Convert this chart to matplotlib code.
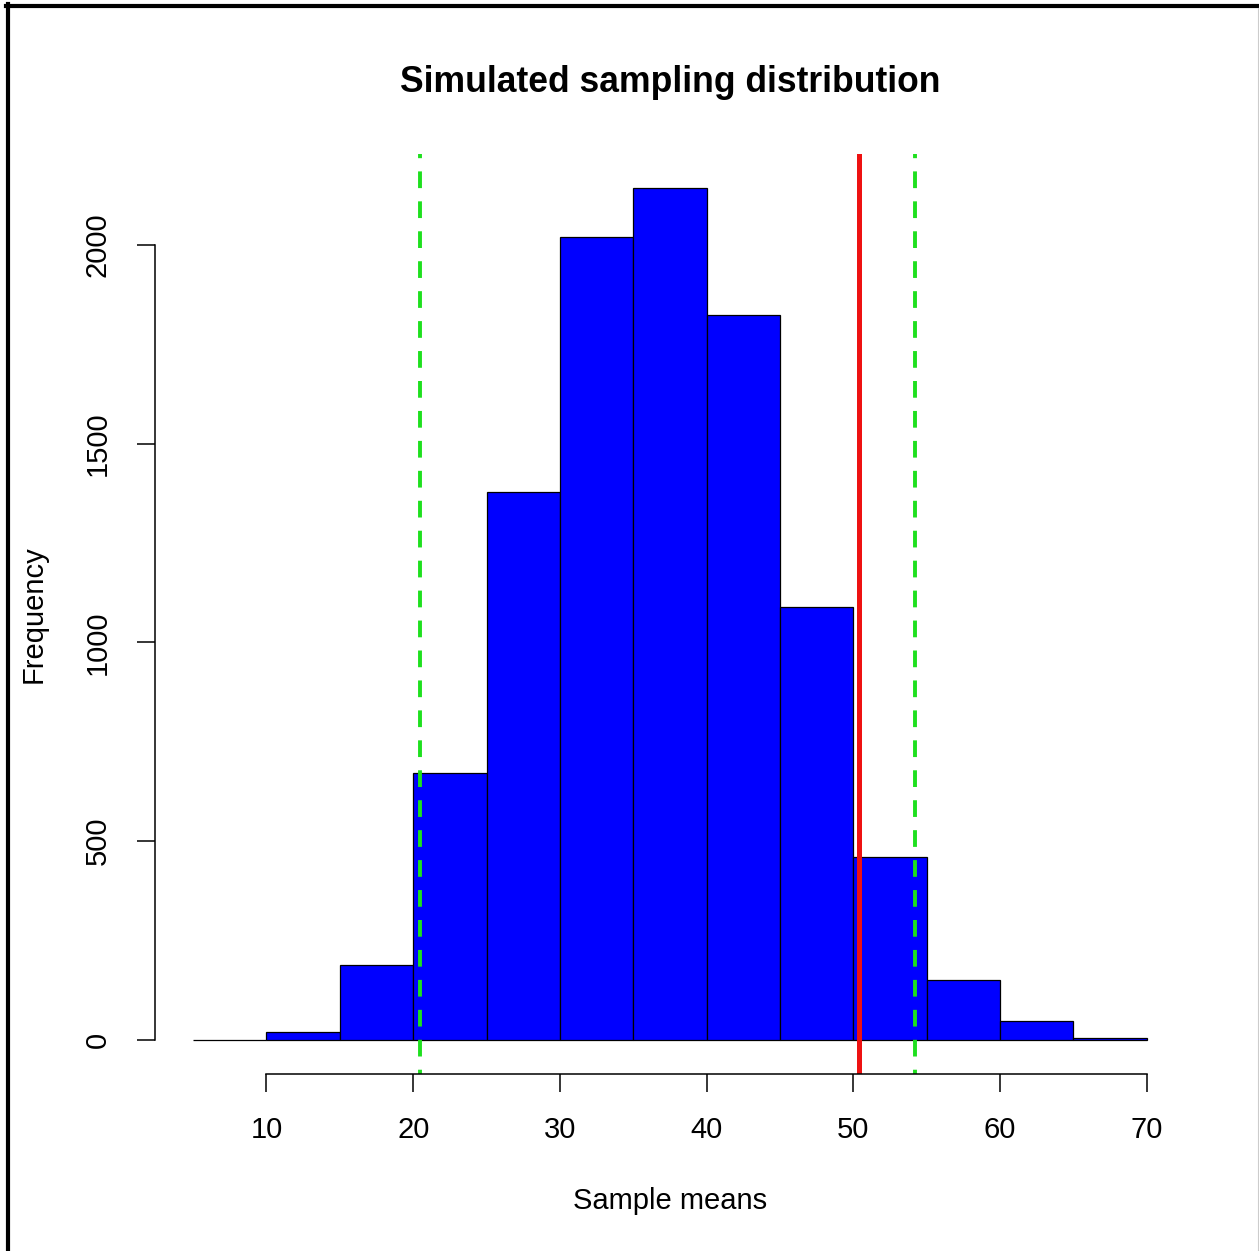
import matplotlib.pyplot as plt
from matplotlib.lines import Line2D

# histogram of simulated sample means (bins of width 5)
bin_edges = [5, 10, 15, 20, 25, 30, 35, 40, 45, 50, 55, 60, 65, 70]
counts = [0, 20, 189, 672, 1379, 2020, 2143, 1824, 1089, 460, 151, 48, 5]
observed = 50.35
ci_bounds = [20.48, 54.22]
xticks = [10, 20, 30, 40, 50, 60, 70]
yticks = [0, 500, 1000, 1500, 2000]

plt.rcParams['font.family'] = ['Liberation Sans', 'DejaVu Sans']

fig = plt.figure(figsize=(12.59, 12.51), dpi=100)
ax = fig.add_axes([0.1231, 0.1415, 0.8181, 0.7354])

lefts = bin_edges[:-1]
widths = [b - a for a, b in zip(bin_edges[:-1], bin_edges[1:])]
ax.bar(lefts, counts, width=widths, align='edge', color='#0000ff',
       edgecolor='black', linewidth=0.9)

ax.axvline(observed, color='#ee1111', linewidth=3.6)
for b in ci_bounds:
    ax.axvline(b, color='#1ee01e', linewidth=2.8, linestyle=(3.2, (4.3, 3.4)))

# R-style extents: 4% padding on each side
xr = bin_edges[-1] - bin_edges[0]
ax.set_xlim(bin_edges[0] - 0.04 * xr, bin_edges[-1] + 0.04 * xr)
ym = max(counts)
ax.set_ylim(-0.04 * ym, 1.04 * ym)

for s in ['top', 'right']:
    ax.spines[s].set_visible(False)
ax.spines['bottom'].set_bounds(xticks[0], xticks[-1])
ax.spines['left'].set_bounds(yticks[0], yticks[-1])
ax.spines['bottom'].set_linewidth(1.1)
ax.spines['left'].set_linewidth(1.1)

ax.set_xticks(xticks)
ax.set_yticks(yticks)
ax.set_yticklabels([str(v) for v in yticks], rotation=90, va='center')
ax.tick_params(axis='both', length=13, width=1.1, labelsize=21, colors='black')
ax.tick_params(axis='x', pad=17)
ax.tick_params(axis='y', pad=18)

ax.set_xlabel('Sample means', fontsize=21)
ax.xaxis.set_label_coords(0.5, -0.123)
ax.set_ylabel('Frequency', fontsize=21)
ax.yaxis.set_label_coords(-0.118, 0.5)
ax.yaxis.label.set_va('center')

fig.text(0.532, 1 - 83 / 1251, 'Simulated sampling distribution',
         fontsize=25.6, fontweight='bold', ha='center', va='center')

# screenshot frame
W, H = 1259, 1251
fig.add_artist(Line2D([8 / W, 8 / W], [0, 1 - 4 / H], color='black',
                      linewidth=3, transform=fig.transFigure))
fig.add_artist(Line2D([6 / W, 1], [1 - 6 / H, 1 - 6 / H], color='black',
                      linewidth=3, transform=fig.transFigure))
fig.add_artist(Line2D([1257.5 / W, 1257.5 / W], [0, 1 - 8 / H], color='#cccccc',
                      linewidth=0.8, transform=fig.transFigure))

fig.savefig('out.png', dpi=100)
